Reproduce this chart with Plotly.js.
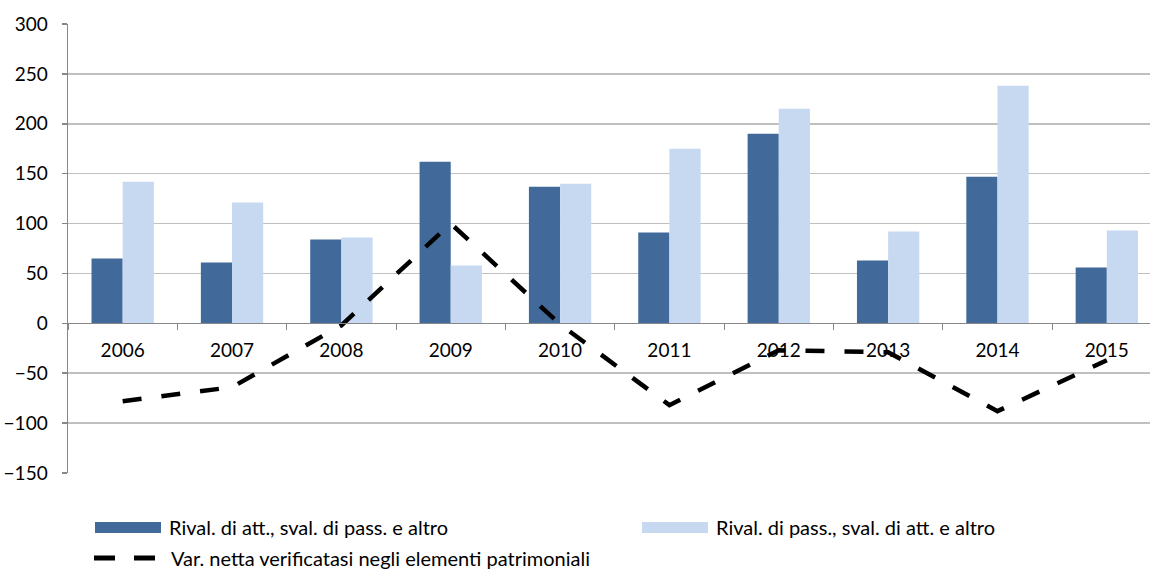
<!DOCTYPE html>
<html>
<head>
<meta charset="utf-8">
<script src="https://cdn.plot.ly/plotly-3.0.1.min.js"></script>
<style>
  html, body { margin: 0; padding: 0; background: #fff; overflow: hidden; }
  #chart { width: 1150px; height: 570px; }
</style>
</head>
<body>
<div id="chart"></div>
<script>
// ---- data ----
const years = ["2006","2007","2008","2009","2010","2011","2012","2013","2014","2015"];
const rivalAtt = [65, 61, 84, 162, 137, 91, 190, 63, 147, 56];
const rivalPass = [142, 121, 86, 58, 140, 175, 215, 92, 238, 93];
const varNetta = [-78, -64, -2, 100, -1, -82, -27, -29, -88, -37];
const seriesNames = [
  "Rival. di att., sval. di pass. e altro",
  "Rival. di pass., sval. di att. e altro",
  "Var. netta verificatasi negli elementi patrimoniali"
];
const yTicks = [300, 250, 200, 150, 100, 50, 0, -50, -100, -150];

// ---- layout constants ----
const W = 1150, H = 570;
const M = { l: 68, r: 0, t: 24, b: 97 };
const plotW = W - M.l - M.r, plotH = H - M.t - M.b;
const catW = 109.35;
const px = x => (x - M.l) / plotW;
const py = y => (H - M.b - y) / plotH;

const darkBlue = "#416A9A";
const lightBlue = "#C6D9F0";
const fontFam = "Lato, 'Open Sans', sans-serif";

const traces = [
  { type: "bar", x: years, y: rivalAtt, name: seriesNames[0], showlegend: false,
    marker: { color: darkBlue, line: { width: 0 } }, hoverinfo: "skip" },
  { type: "bar", x: years, y: rivalPass, name: seriesNames[1], showlegend: false,
    marker: { color: lightBlue, line: { width: 0 } }, hoverinfo: "skip" },
  { type: "scatter", mode: "lines", x: years, y: varNetta, name: seriesNames[2], showlegend: false,
    line: { color: "#000", width: 4.5, dash: "19px,20px" }, hoverinfo: "skip" }
];

const yMin = Math.min(...yTicks), yMax = Math.max(...yTicks);
const shapes = [
  { type: "rect", xref: "paper", yref: "paper", x0: px(95), x1: px(161), y0: py(533), y1: py(522),
    fillcolor: darkBlue, line: { width: 0 } },
  { type: "rect", xref: "paper", yref: "paper", x0: px(642), x1: px(708), y0: py(533), y1: py(522),
    fillcolor: lightBlue, line: { width: 0 } },
  { type: "line", xref: "paper", yref: "paper", x0: px(94), x1: px(156), y0: py(558), y1: py(558),
    line: { color: "#000", width: 5, dash: "21px,19px" } }
];
const legendFont = { family: fontFam, size: 20, color: "#000" };
const annotations = [
  { xref: "paper", yref: "paper", x: px(167), y: py(527), xanchor: "left", yanchor: "middle",
    text: seriesNames[0], showarrow: false, font: legendFont },
  { xref: "paper", yref: "paper", x: px(714), y: py(527), xanchor: "left", yanchor: "middle",
    text: seriesNames[1], showarrow: false, font: legendFont },
  { xref: "paper", yref: "paper", x: px(169), y: py(558), xanchor: "left", yanchor: "middle",
    text: seriesNames[2], showarrow: false, font: legendFont }
];

const layout = {
  width: W, height: H,
  margin: M,
  paper_bgcolor: "#fff", plot_bgcolor: "#fff",
  barmode: "group",
  bargap: 0.43,
  bargroupgap: 0,
  xaxis: {
    type: "category",
    range: [-0.5, -0.5 + plotW / catW],
    anchor: "free",
    position: (0 - yMin) / (yMax - yMin),
    automargin: false,
    showgrid: false,
    showline: true, linecolor: "#878787", linewidth: 1,
    ticks: "outside", tickson: "boundaries", ticklen: 6, tickcolor: "#878787", tickwidth: 1,
    ticklabelstandoff: 10,
    tickfont: { family: fontFam, size: 19, color: "#000" },
    fixedrange: true
  },
  yaxis: {
    range: [yMin, yMax],
    tick0: 0, dtick: yTicks[0] - yTicks[1],
    automargin: false,
    showgrid: true, gridcolor: "#C0C0C0", gridwidth: 1.5,
    zeroline: false,
    showline: true, linecolor: "#878787", linewidth: 1.5,
    ticks: "outside", ticklen: 5, tickcolor: "#878787", tickwidth: 1.5,
    ticklabelstandoff: 10,
    tickfont: { family: fontFam, size: 19, color: "#000" },
    fixedrange: true
  },
  shapes: shapes,
  annotations: annotations
};

Plotly.newPlot("chart", traces, layout, { displayModeBar: false, staticPlot: true });
</script>
</body>
</html>
